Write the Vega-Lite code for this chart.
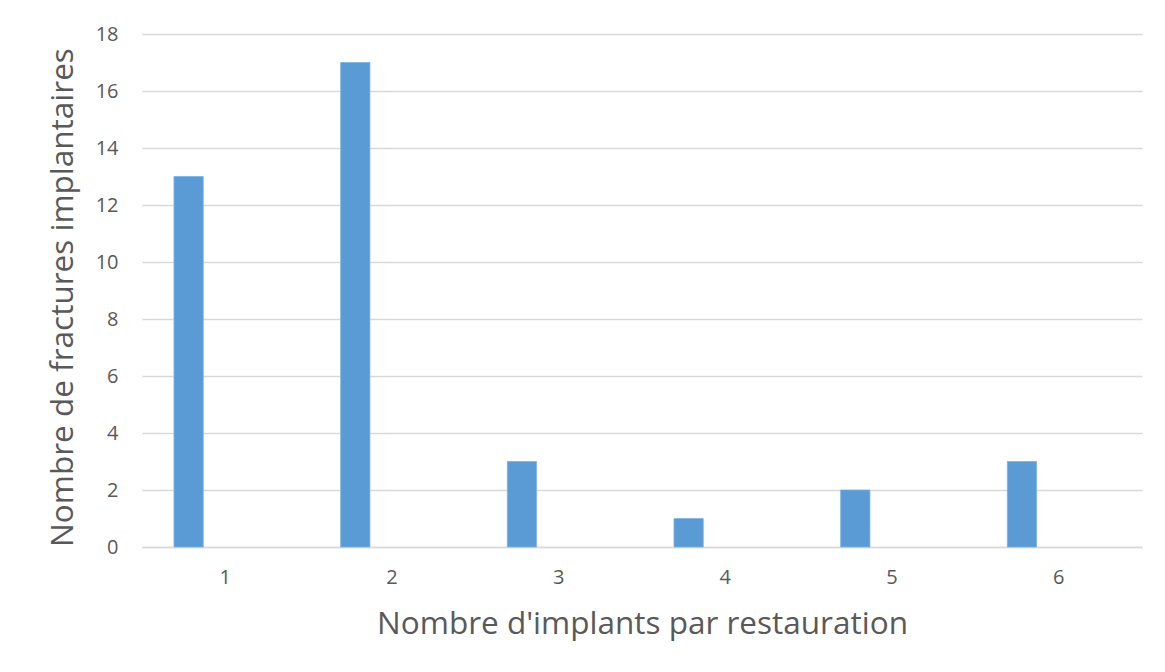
{
  "$schema": "https://vega.github.io/schema/vega-lite/v6.json",
  "width": 1000,
  "height": 513,
  "autosize": "none",
  "padding": {"left": 142, "top": 34, "right": 23, "bottom": 125},
  "background": "white",
  "config": {
    "view": {"stroke": null},
    "font": "Open Sans",
    "axis": {
      "labelColor": "#595959",
      "titleColor": "#595959",
      "labelFont": "Open Sans",
      "titleFont": "Open Sans",
      "titleFontWeight": "normal",
      "ticks": false
    }
  },
  "data": {
    "values": [
      {"implants": "1", "serie": "Série 1", "fractures": 13},
      {"implants": "2", "serie": "Série 1", "fractures": 17},
      {"implants": "3", "serie": "Série 1", "fractures": 3},
      {"implants": "4", "serie": "Série 1", "fractures": 1},
      {"implants": "5", "serie": "Série 1", "fractures": 2},
      {"implants": "6", "serie": "Série 1", "fractures": 3}
    ]
  },
  "mark": {"type": "bar", "color": "#5b9bd5", "stroke": "#7fb2e0", "strokeWidth": 0.8},
  "encoding": {
    "x": {
      "field": "implants",
      "type": "ordinal",
      "scale": {"paddingInner": 0, "paddingOuter": 0},
      "axis": {
        "title": "Nombre d'implants par restauration",
        "labelAngle": 0,
        "labelFontSize": 20,
        "labelPadding": 20,
        "titleFontSize": 31.5,
        "titlePadding": 21,
        "domainColor": "#d9d9d9",
        "domainWidth": 1.5
      }
    },
    "xOffset": {
      "field": "serie",
      "type": "nominal",
      "scale": {"domain": ["Série 1", "Série 2", "Série 3", "Série 4"], "paddingInner": 0, "paddingOuter": 0.845, "align": 0.646}
    },
    "y": {
      "field": "fractures",
      "type": "quantitative",
      "scale": {"domain": [0, 18], "nice": false},
      "axis": {
        "title": "Nombre de fractures implantaires",
        "values": [0, 2, 4, 6, 8, 10, 12, 14, 16, 18],
        "domain": false,
        "gridColor": "#d9d9d9",
        "gridWidth": 1.5,
        "labelFontSize": 20,
        "labelPadding": 24,
        "titleFontSize": 31.5,
        "titlePadding": 16,
        "titleY": 263
      }
    }
  }
}
